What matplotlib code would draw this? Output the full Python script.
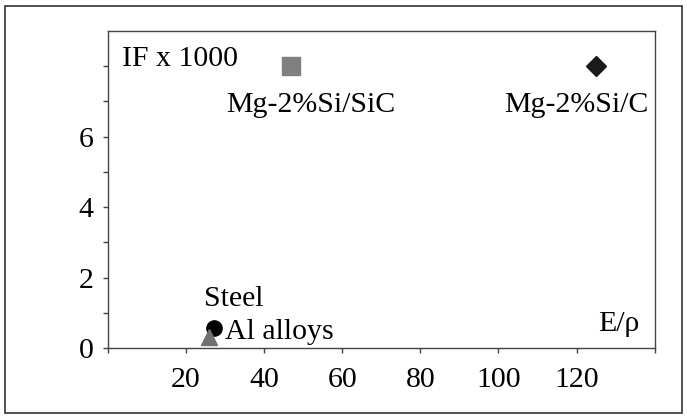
import matplotlib
matplotlib.use("Agg")
import matplotlib.pyplot as plt
from matplotlib.patches import Rectangle

# data
materials = ["Mg-2%Si/SiC", "Mg-2%Si/C", "Steel", "Al alloys"]
e_rho = [47, 125, 27.2, 26]
if_x1000 = [8.0, 8.0, 0.57, 0.33]
markers = ["s", "D", "o", "^"]
colors = ["#808080", "#1a1a1a", "#000000", "#707070"]
sizes = [13, 10, 11, 12]

x_ticks = [0, 20, 40, 60, 80, 100, 120, 140]
x_labels = ["", "20", "40", "60", "80", "100", "120", ""]
y_ticks = [0, 1, 2, 3, 4, 5, 6, 7, 8]
y_labels = ["0", "", "2", "", "4", "", "6", "", ""]

plt.rcParams["font.family"] = ["Liberation Serif", "DejaVu Serif"]

fig = plt.figure(figsize=(6.87, 4.19), dpi=100)
ax = fig.add_axes([0.157, 0.169, 0.796, 0.757])

for x, y, m, c, s in zip(e_rho, if_x1000, markers, colors, sizes):
    ax.plot(x, y, marker=m, color=c, markersize=s, linestyle="none")

ax.set_xlim(0, 140)
ax.set_ylim(0, 9)
ax.set_xticks(x_ticks)
ax.set_xticklabels(x_labels)
ax.set_yticks(y_ticks)
ax.set_yticklabels(y_labels)
ax.tick_params(direction="out", length=3.5, width=1, color="#444444",
               labelsize=21.5)
ax.tick_params(axis="x", pad=10)
ax.tick_params(axis="y", pad=7)
for sp in ax.spines.values():
    sp.set_color("#444444")
    sp.set_linewidth(1)

# annotations
fs = 21.5
ax.text(3.5, 8.2, "IF x 1000", fontsize=fs, ha="left", va="center")
ax.text(52, 6.9, "Mg-2%Si/SiC", fontsize=fs, ha="center", va="center")
ax.text(138.5, 6.9, "Mg-2%Si/C", fontsize=fs, ha="right", va="center")
ax.text(24.5, 1.4, "Steel", fontsize=fs, ha="left", va="center")
ax.text(30, 0.45, "Al alloys", fontsize=fs, ha="left", va="center")
ax.text(136, 0.7, "E/ρ", fontsize=fs, ha="right", va="center")

# outer frame around the whole figure
fig.patches.append(Rectangle((0.008, 0.014), 0.985, 0.972, transform=fig.transFigure,
                             fill=False, edgecolor="#333333", linewidth=1.2))

fig.savefig("out.png", dpi=100)
